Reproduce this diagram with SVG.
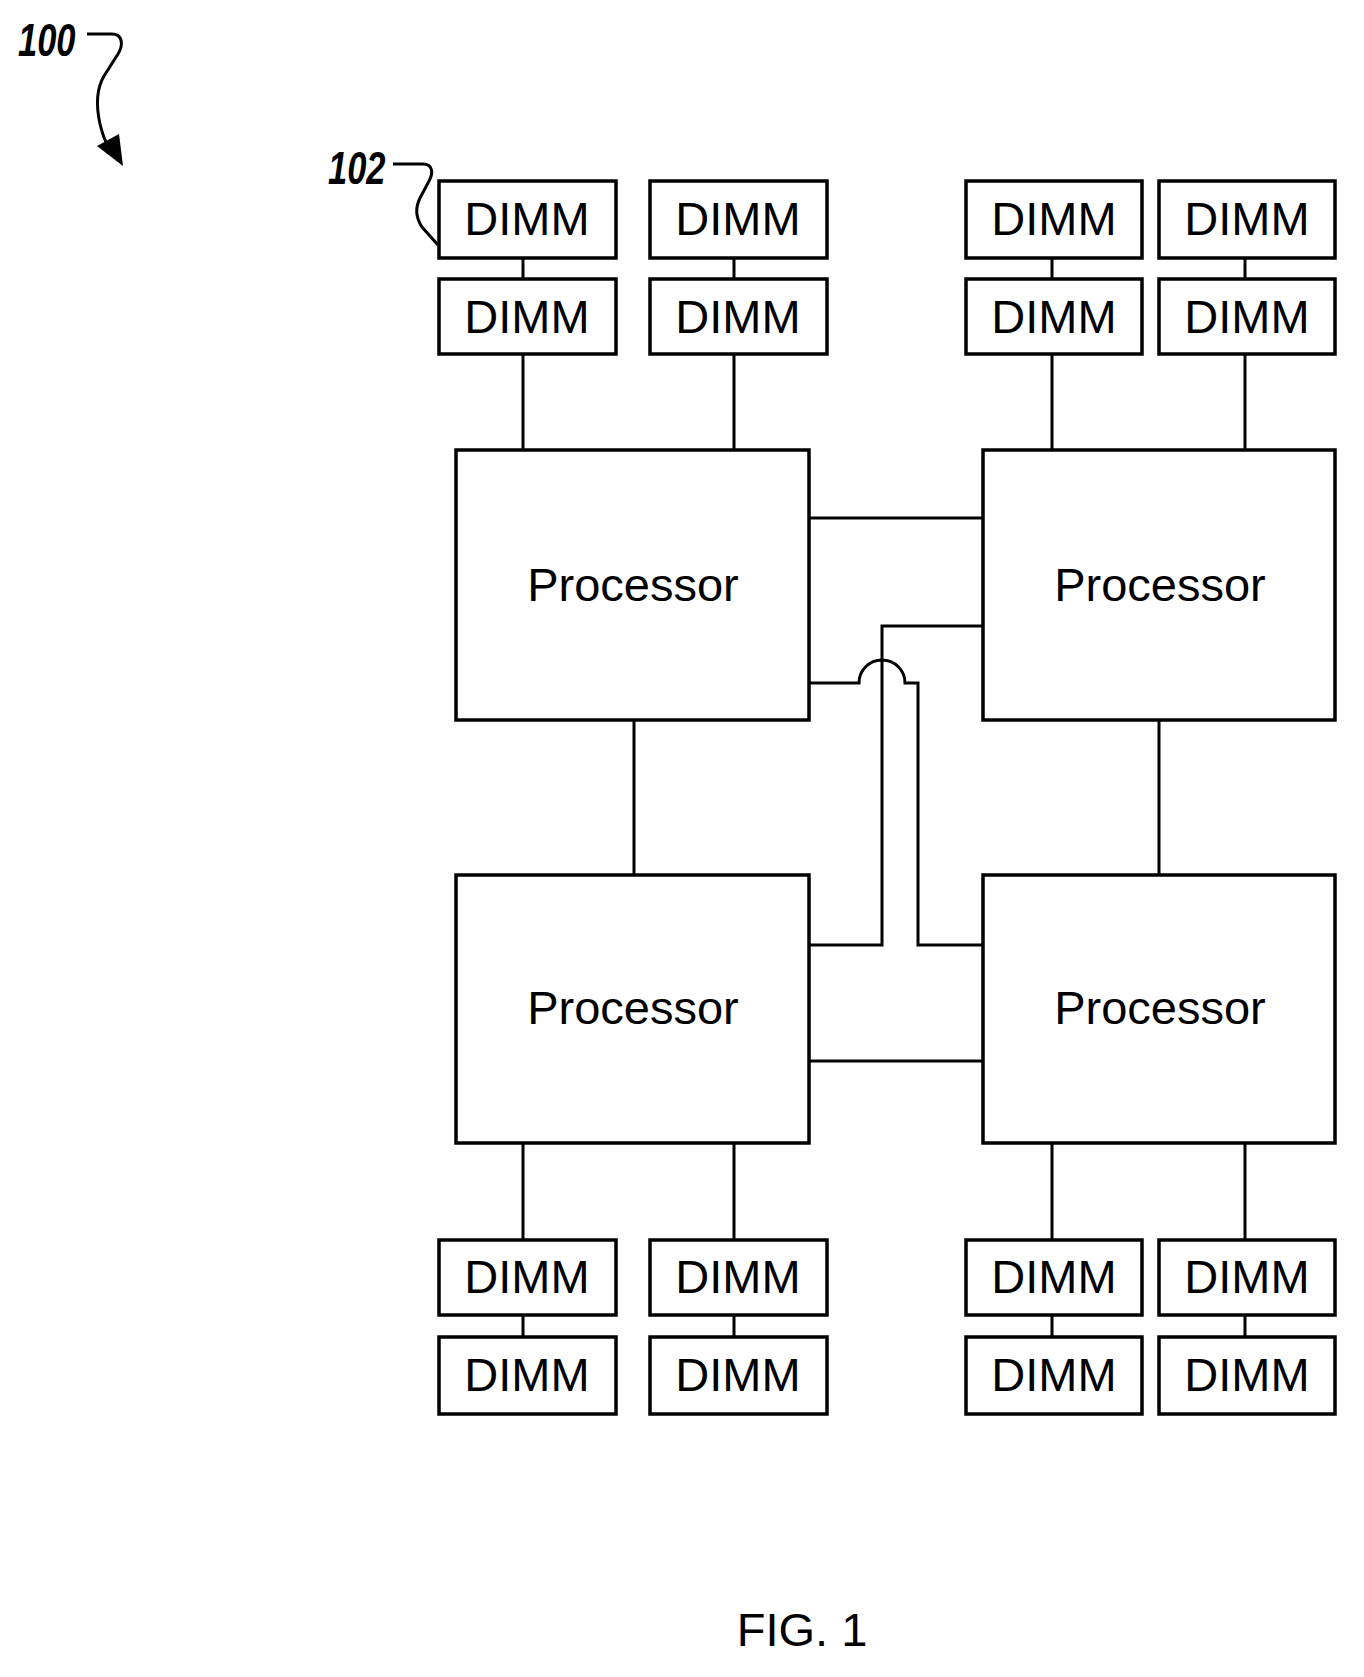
<svg xmlns="http://www.w3.org/2000/svg" width="1364" height="1677" viewBox="0 0 1364 1677">
<style>
.b{fill:#fff;stroke:#000;stroke-width:3.5}
.l{fill:none;stroke:#000;stroke-width:3}
.d{font-family:"Liberation Sans",Arial,sans-serif;font-size:47px;text-anchor:middle}
.p{font-family:"Liberation Sans",Arial,sans-serif;font-size:47px;text-anchor:middle}
.r{font-family:"Liberation Sans",Arial,sans-serif;font-size:46px;font-style:italic;font-weight:bold}
</style>
<rect width="1364" height="1677" fill="#fff"/>
<g id="connectors">
<path class="l" d="M523,258V279M523,354V450M734,258V279M734,354V450M1052,258V279M1052,354V450M1245,258V279M1245,354V450"/>
<path class="l" d="M523,1143V1240M523,1315V1337M734,1143V1240M734,1315V1337M1052,1143V1240M1052,1315V1337M1245,1143V1240M1245,1315V1337"/>
<path class="l" d="M634,720V875M1159,720V875M809,518H983M809,1061H983"/>
<path class="l" d="M983,626H882V945H809"/>
<path class="l" d="M809,683H859A23,23 0 0 1 905,683H918V945H983"/>
</g>
<g id="labels">
<text class="r" x="18" y="56" transform="translate(18,0) scale(0.75,1) translate(-18,0)">100</text>
<path class="l" d="M87,34H112C122,34 124,44 118,54L104,76C97,88 96,106 100,124C102,132 104,138 106,142"/>
<path d="M97,146L123,166L119,134Z"/>
<text class="r" x="328" y="184" transform="translate(328,0) scale(0.75,1) translate(-328,0)">102</text>
<path class="l" d="M393,164H423C432,164 434,172 429,181L420,198C415,208 416,218 422,227L438,245"/>
</g>
<g id="dimm-tl-1"><rect class="b" x="439" y="181" width="177" height="77"/><text class="d" x="527" y="235">DIMM</text></g>
<g id="dimm-tl-2"><rect class="b" x="439" y="279" width="177" height="75"/><text class="d" x="527" y="333">DIMM</text></g>
<g id="dimm-tl-3"><rect class="b" x="650" y="181" width="177" height="77"/><text class="d" x="738" y="235">DIMM</text></g>
<g id="dimm-tl-4"><rect class="b" x="650" y="279" width="177" height="75"/><text class="d" x="738" y="333">DIMM</text></g>
<g id="dimm-tr-1"><rect class="b" x="966" y="181" width="176" height="77"/><text class="d" x="1054" y="235">DIMM</text></g>
<g id="dimm-tr-2"><rect class="b" x="966" y="279" width="176" height="75"/><text class="d" x="1054" y="333">DIMM</text></g>
<g id="dimm-tr-3"><rect class="b" x="1159" y="181" width="176" height="77"/><text class="d" x="1247" y="235">DIMM</text></g>
<g id="dimm-tr-4"><rect class="b" x="1159" y="279" width="176" height="75"/><text class="d" x="1247" y="333">DIMM</text></g>
<g id="dimm-bl-1"><rect class="b" x="439" y="1240" width="177" height="75"/><text class="d" x="527" y="1293">DIMM</text></g>
<g id="dimm-bl-2"><rect class="b" x="439" y="1337" width="177" height="77"/><text class="d" x="527" y="1391">DIMM</text></g>
<g id="dimm-bl-3"><rect class="b" x="650" y="1240" width="177" height="75"/><text class="d" x="738" y="1293">DIMM</text></g>
<g id="dimm-bl-4"><rect class="b" x="650" y="1337" width="177" height="77"/><text class="d" x="738" y="1391">DIMM</text></g>
<g id="dimm-br-1"><rect class="b" x="966" y="1240" width="176" height="75"/><text class="d" x="1054" y="1293">DIMM</text></g>
<g id="dimm-br-2"><rect class="b" x="966" y="1337" width="176" height="77"/><text class="d" x="1054" y="1391">DIMM</text></g>
<g id="dimm-br-3"><rect class="b" x="1159" y="1240" width="176" height="75"/><text class="d" x="1247" y="1293">DIMM</text></g>
<g id="dimm-br-4"><rect class="b" x="1159" y="1337" width="176" height="77"/><text class="d" x="1247" y="1391">DIMM</text></g>
<g id="proc-tl"><rect class="b" x="456" y="450" width="353" height="270"/><text class="p" x="633" y="601">Processor</text></g>
<g id="proc-tr"><rect class="b" x="983" y="450" width="352" height="270"/><text class="p" x="1160" y="601">Processor</text></g>
<g id="proc-bl"><rect class="b" x="456" y="875" width="353" height="268"/><text class="p" x="633" y="1024">Processor</text></g>
<g id="proc-br"><rect class="b" x="983" y="875" width="352" height="268"/><text class="p" x="1160" y="1024">Processor</text></g>
<text class="p" x="802" y="1646">FIG. 1</text>
</svg>
